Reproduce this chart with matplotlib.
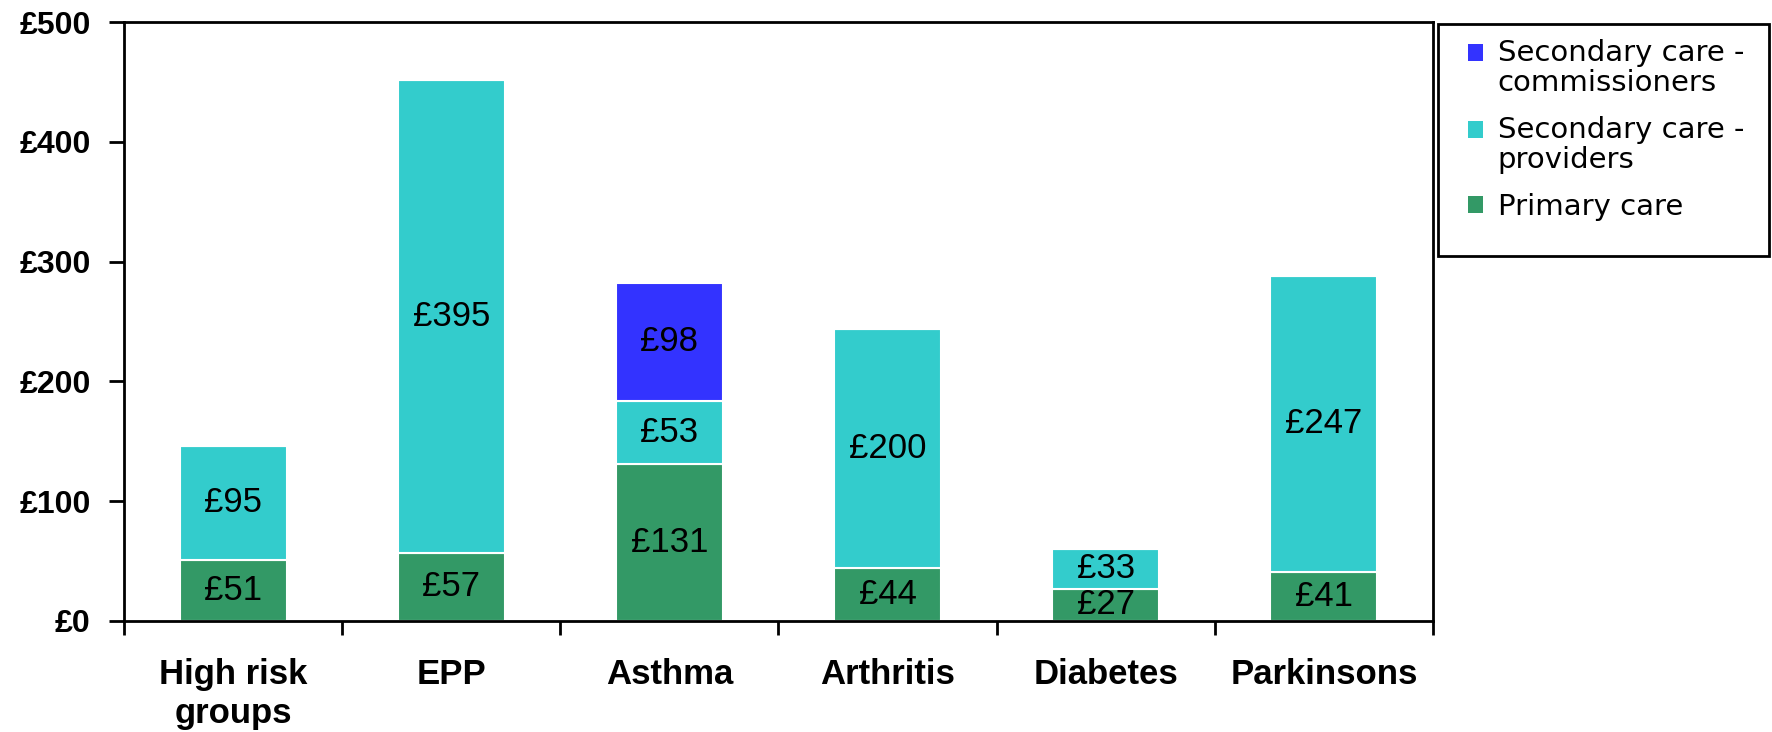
import matplotlib.pyplot as plt
from matplotlib.patches import Rectangle
from matplotlib.legend_handler import HandlerPatch
import numpy as np

categories = ['High risk\ngroups', 'EPP', 'Asthma', 'Arthritis', 'Diabetes', 'Parkinsons']
primary_care = [51, 57, 131, 44, 27, 41]
secondary_providers = [95, 395, 53, 200, 33, 247]
secondary_commissioners = [0, 0, 98, 0, 0, 0]
y_ticks = [0, 100, 200, 300, 400, 500]

series = [
    ('Primary care', primary_care, '#339966'),
    ('Secondary care -\nproviders', secondary_providers, '#33CCCC'),
    ('Secondary care -\ncommissioners', secondary_commissioners, '#3333FF'),
]

fig = plt.figure(figsize=(17.72, 7.32), dpi=100)
ax = fig.add_axes([124 / 1772, 1 - 621 / 732, (1433 - 124) / 1772, (621 - 22) / 732])

x = np.arange(len(categories))
bottom = np.zeros(len(categories))
for name, vals, col in series:
    vals = np.array(vals, dtype=float)
    bars = ax.bar(x, vals, 0.49, bottom=bottom, color=col, edgecolor='white',
                  linewidth=1.5, label=name)
    labels = ['£%d' % v if v > 0 else '' for v in vals]
    ax.bar_label(bars, labels=labels, label_type='center', fontsize=25,
                 family='Liberation Sans', color='black')
    bottom += vals

ax.set_xlim(-0.5, len(categories) - 0.5)
ax.set_ylim(0, 500)
ax.set_yticks(y_ticks)
ax.set_yticklabels(['£%d' % v for v in y_ticks], fontsize=23, fontweight='bold',
                   family='Liberation Sans')
ax.set_xticks(x)
ax.set_xticklabels(categories, fontsize=25, fontweight='bold', family='Liberation Sans',
                   linespacing=1.25)
ax.set_xticks(np.arange(-0.5, len(categories)), minor=True)
ax.tick_params(axis='x', which='major', length=0, pad=26.5)
ax.tick_params(axis='x', which='minor', length=10, width=2, direction='out')
ax.tick_params(axis='y', length=11, width=2, direction='out', pad=13)
for s in ax.spines.values():
    s.set_linewidth(2)


def square_top(legend, orig_handle, xdescent, ydescent, width, height, fontsize):
    # put the square next to the first line of a two-line label
    return Rectangle((-xdescent, -ydescent + 0.56 * fontsize), width, height)


# legend box
fig.add_artist(Rectangle((1438 / 1772, 1 - 256 / 732), (1769 - 1438) / 1772, (256 - 24) / 732,
                         transform=fig.transFigure, fill=False, edgecolor='black', linewidth=2))
proxies = [Rectangle((0, 0), 1, 1, facecolor=col, edgecolor='none') for _, _, col in series][::-1]
hmap = {proxies[0]: HandlerPatch(patch_func=square_top),
        proxies[1]: HandlerPatch(patch_func=square_top)}
leg = fig.legend(proxies, [s[0] for s in series][::-1], loc='upper left',
                 bbox_to_anchor=(1468 / 1772, 1 - 39 / 732), frameon=False,
                 prop={'family': 'DejaVu Sans', 'size': 21}, handlelength=0.52,
                 handleheight=0.52, handletextpad=0.5, labelspacing=0.65,
                 borderpad=0, borderaxespad=0, handler_map=hmap)
for t in leg.get_texts():
    t.set_linespacing(1.1)

fig.savefig('out.png', dpi=100)
